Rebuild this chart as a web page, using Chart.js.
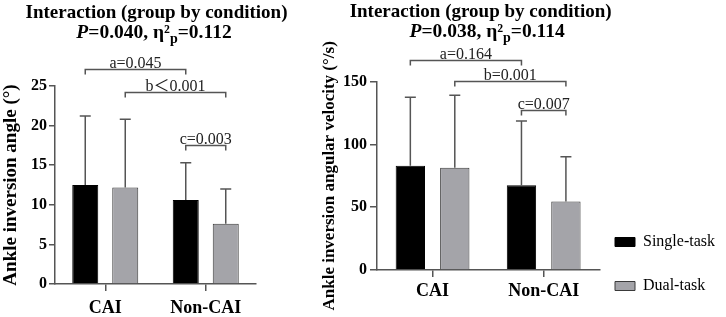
<!DOCTYPE html>
<html><head><meta charset="utf-8">
<script src="https://cdn.jsdelivr.net/npm/chart.js@4.4.0/dist/chart.umd.min.js"></script>
<style>
html,body{margin:0;padding:0;background:#fff;width:726px;height:317px;overflow:hidden}
#w1{position:absolute;left:0;top:0;width:300px;height:317px}
#w2{position:absolute;left:300px;top:0;width:426px;height:317px}
</style></head><body>
<div id="w1"><canvas id="c1"></canvas></div>
<div id="w2"><canvas id="c2"></canvas></div>
<script>
// ---------- data ----------
const categories = ['CAI', 'Non-CAI'];
const seriesNames = ['Single-task', 'Dual-task'];
const titleText = 'Interaction (group by condition)';

// Panel 1: ankle inversion angle (°)
const angleSingleMean = [12.5, 10.6];
const angleSingleSD   = [8.7, 4.7];
const angleDualMean   = [12.2, 7.6];
const angleDualSD     = [8.6, 4.4];
const angleTicks = [0, 5, 10, 15, 20, 25];
const angleStat = {P: '0.040', eta: '0.112'};
const angleBracketLabels = ['a=0.045', 'b\uFF1C0.001', 'c=0.003'];
const angleBracketLevels = [27.2, 24.2, 17.6];

// Panel 2: ankle inversion angular velocity (°/s)
const velSingleMean = [83.0, 67.5];
const velSingleSD   = [54.6, 51.2];
const velDualMean   = [81.5, 54.5];
const velDualSD     = [57.7, 35.8];
const velTicks = [0, 50, 100, 150];
const velStat = {P: '0.038', eta: '0.114'};
const velBracketLabels = ['a=0.164', 'b=0.001', 'c=0.007'];
const velBracketLevels = [167.3, 150.8, 127.5];

// which bars each bracket joins: [categoryIndex, datasetIndex]
const bracketPairs = [[[0,0],[1,0]], [[0,1],[1,1]], [[1,0],[1,1]]];

// ---------- styles ----------
const SERIF = '"Liberation Serif", "Times New Roman", "Noto Sans CJK SC", serif';
const AXIS = '#555';
const BLACK = '#000000';
const GREY = '#a4a4a9';

function titlePlugin(stat, dx1, base1, dx2, base2) {
  return {
    id: 'titles',
    afterDraw(chart) {
      const ctx = chart.ctx, ca = chart.chartArea;
      const cx = (ca.left + ca.right) / 2;
      ctx.save();
      ctx.fillStyle = '#000';
      ctx.textBaseline = 'alphabetic';
      ctx.font = 'bold 19px ' + SERIF;
      ctx.textAlign = 'center';
      ctx.fillText(titleText, cx + dx1, base1);
      const parts = [
        {t: 'P', f: 'italic bold 19.5px ' + SERIF, dy: 0},
        {t: '=' + stat.P + ', η²', f: 'bold 19.5px ' + SERIF, dy: 0},
        {t: 'p', f: 'bold 14px ' + SERIF, dy: 5},
        {t: '=' + stat.eta, f: 'bold 19.5px ' + SERIF, dy: 0}
      ];
      let w = 0;
      parts.forEach(p => { ctx.font = p.f; p.w = ctx.measureText(p.t).width; w += p.w; });
      let x = cx + dx2 - w / 2;
      ctx.textAlign = 'left';
      parts.forEach(p => { ctx.font = p.f; ctx.fillText(p.t, x, base2 + p.dy); x += p.w; });
      ctx.restore();
    }
  };
}

function errorPlugin(sds) {
  return {
    id: 'errbars',
    afterDatasetsDraw(chart) {
      const ctx = chart.ctx, y = chart.scales.y;
      ctx.save();
      ctx.strokeStyle = AXIS;
      ctx.lineWidth = 1.5;
      chart.data.datasets.forEach((ds, i) => {
        chart.getDatasetMeta(i).data.forEach((el, j) => {
          const top = y.getPixelForValue(ds.data[j] + sds[i][j]);
          ctx.beginPath();
          ctx.moveTo(el.x, el.y);
          ctx.lineTo(el.x, top);
          ctx.moveTo(el.x - 5.5, top);
          ctx.lineTo(el.x + 5.5, top);
          ctx.stroke();
        });
      });
      ctx.restore();
    }
  };
}

function bracketPlugin(levels, labels) {
  return {
    id: 'brackets',
    afterDraw(chart) {
      const ctx = chart.ctx, y = chart.scales.y;
      ctx.save();
      ctx.strokeStyle = AXIS;
      ctx.lineWidth = 1.5;
      ctx.fillStyle = '#222';
      ctx.font = '16px ' + SERIF;
      ctx.textAlign = 'center';
      ctx.textBaseline = 'alphabetic';
      bracketPairs.forEach((pr, k) => {
        const x1 = chart.getDatasetMeta(pr[0][1]).data[pr[0][0]].x;
        const x2 = chart.getDatasetMeta(pr[1][1]).data[pr[1][0]].x;
        const py = Math.round(y.getPixelForValue(levels[k])) + 0.5;
        ctx.beginPath();
        ctx.moveTo(x1, py + 5);
        ctx.lineTo(x1, py);
        ctx.lineTo(x2, py);
        ctx.lineTo(x2, py + 5);
        ctx.stroke();
        ctx.fillText(labels[k], (x1 + x2) / 2, py - 1.5);
      });
      ctx.restore();
    }
  };
}

function legendShift(boxLeft, firstCenter) {
  return {
    id: 'legendShift',
    afterLayout(chart) {
      const lg = chart.legend;
      if (!lg) return;
      const p = lg.options.labels.padding;
      const ih = lg.options.labels.font.size;
      const colH = 2 * (ih + p);
      const dx = boxLeft - (lg.left + p);
      const dy = firstCenter - (lg.bottom - colH + ih / 2);
      lg.left += dx;
      lg.right = chart.width;
      lg.width = lg.right - lg.left;
      lg.top += dy; lg.bottom += dy;
    }
  };
}

function makeChart(id, o) {
  return new Chart(document.getElementById(id), {
    type: 'bar',
    data: {
      labels: categories,
      datasets: [
        {label: seriesNames[0], data: o.single, backgroundColor: BLACK, borderColor: BLACK, borderWidth: 1,
         categoryPercentage: o.catPct, barPercentage: o.barPct},
        {label: seriesNames[1], data: o.dual, backgroundColor: GREY, borderColor: '#3a3a3a', borderWidth: 1,
         categoryPercentage: o.catPct, barPercentage: o.barPct}
      ]
    },
    options: {
      responsive: true,
      maintainAspectRatio: false,
      animation: false,
      devicePixelRatio: 1,
      layout: {padding: {left: 0, right: o.padRight, top: o.padTop, bottom: 0}},
      plugins: {
        tooltip: {enabled: false},
        title: {display: false},
        legend: o.legend ? {
          display: true, position: 'right', align: 'end',
          labels: {boxWidth: 20, boxHeight: 9, padding: 28, color: '#000',
                   font: {family: SERIF, size: 16}}
        } : {display: false}
      },
      scales: {
        x: {
          grid: {display: true, drawOnChartArea: false, offset: false, tickLength: 7, color: AXIS, lineWidth: 1.5},
          border: {display: true, color: AXIS, width: 1.5},
          ticks: {color: '#000', font: {family: SERIF, size: 18, weight: 'bold'}, padding: o.xPad},
          afterFit: s => { s.height = o.xHeight; }
        },
        y: {
          min: 0, max: o.ticks[o.ticks.length - 1],
          afterBuildTicks: s => { s.ticks = o.ticks.map(v => ({value: v})); },
          grid: {display: true, drawOnChartArea: false, tickLength: o.yTick, color: AXIS, lineWidth: 1.5},
          border: {display: true, color: AXIS, width: 1.5},
          ticks: {color: '#000', font: {family: SERIF, size: 16, weight: 'bold'}, padding: o.yPad,
                  callback: v => String(v)},
          title: {display: true, text: o.yTitle, color: '#000',
                  font: {family: SERIF, size: o.yTitleSize, weight: 'bold'},
                  padding: {top: o.yTitleTop, bottom: 0}},
          afterFit: s => { s.width = o.yWidth; }
        }
      }
    },
    plugins: o.plugins
  });
}

makeChart('c1', {
  single: angleSingleMean, dual: angleDualMean, ticks: angleTicks,
  catPct: 0.796, barPct: 0.65, padRight: 44, padTop: 86,
  xPad: 7, xHeight: 33, yTick: 6, yPad: 2, yWidth: 55,
  yTitle: 'Ankle inversion angle (°)', yTitleSize: 19, yTitleTop: 0,
  legend: false,
  plugins: [errorPlugin([angleSingleSD, angleDualSD]), bracketPlugin(angleBracketLevels, angleBracketLabels),
            titlePlugin(angleStat, 1, 17.5, -1.5, 37.5)]
});

makeChart('c2', {
  single: velSingleMean, dual: velDualMean, ticks: velTicks,
  catPct: 0.8, barPct: 0.66, padRight: 27, padTop: 81.7,
  xPad: 4, xHeight: 47, yTick: 7, yPad: 3, yWidth: 77,
  yTitle: 'Ankle inversion angular velocity (°/s)', yTitleSize: 17, yTitleTop: 19,
  legend: true,
  plugins: [errorPlugin([velSingleSD, velDualSD]), bracketPlugin(velBracketLevels, velBracketLabels),
            titlePlugin(velStat, -7.5, 17, -1, 36.5), legendShift(315, 242)]
});
</script>
</body></html>
